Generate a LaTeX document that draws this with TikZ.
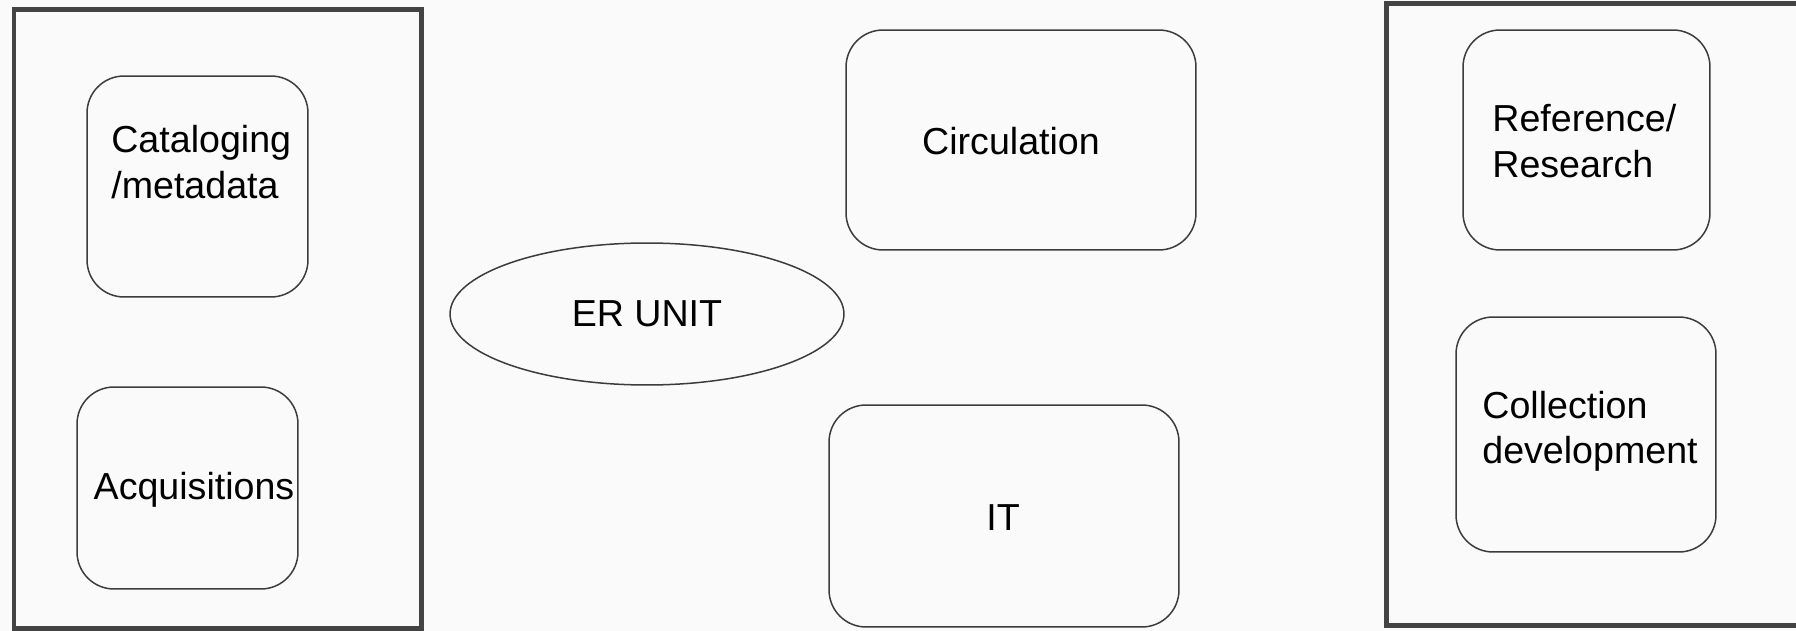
\documentclass[tikz,border=0pt]{standalone}
\usepackage{fontspec}
\setmainfont{Liberation Sans}
\usepackage{tikz}
\usepackage{xcolor}
\usetikzlibrary{positioning, shapes.geometric}
\definecolor{bggray}{RGB}{250, 250, 250}
\definecolor{framegray}{RGB}{67, 67, 67}
\definecolor{boxgray}{RGB}{60, 60, 60}
\tikzset{
    groupframe/.style={draw=framegray, line width=0.1cm},
    unitbox/.style={rectangle, draw=boxgray, line width=0.03cm, rounded corners=0.74cm, inner sep=0pt},
    erunit/.style={ellipse, draw=boxgray, line width=0.03cm, inner sep=0pt, minimum width=7.88cm, minimum height=2.84cm},
    unittext/.style={font=\fontsize{21.4}{25.8}\selectfont, inner sep=0pt, align=left}
}

\begin{document}
\begin{tikzpicture}[x=0.02cm, y=-0.02cm]
                    \fill[bggray] (0,0) rectangle (1796,631);
                    \useasboundingbox (0,0) rectangle (1796,631);
                    \clip (0,0) rectangle (1796,631);

                    % outer group frames
                    \draw[groupframe] (14,10) rectangle (421,628);
                    \draw[groupframe] (1386,4) rectangle (1802,625);

                    % units
                    \node[unitbox, minimum width=4.42cm, minimum height=4.42cm] (catalog) at (197.5,186.5) {};
                    \node[unitbox, minimum width=4.42cm, minimum height=4.04cm] (acq) at (187.5,488) {};
                    \node[erunit] (er) at (647,314) {};
                    \node[unitbox, minimum width=7.0cm, minimum height=4.4cm] (circ) at (1021,140) {};
                    \node[unitbox, minimum width=7.0cm, minimum height=4.44cm] (it) at (1004,516) {};
                    \node[unitbox, minimum width=4.94cm, minimum height=4.4cm] (ref) at (1586.5,140) {};
                    \node[unitbox, minimum width=5.2cm, minimum height=4.7cm] (coll) at (1586,434.5) {};

                    % labels
                    \node[unittext, anchor=west] (catalogtext) at (111,162) {Cataloging\\/metadata};
                    \node[unittext] (acqtext) at (194,490) {Acquisitions};
                    \node[unittext] (ertext) at (er.center) {ER UNIT};
                    \node[unittext] (circtext) at (1011,141) {Circulation};
                    \node[unittext] (ittext) at (1003,518) {IT};
                    \node[unittext, anchor=west] (reftext) at (1492,141) {Reference/\\Research};
                    \node[unittext, anchor=west] (colltext) at (1482,431) {Collection\\development};
                \end{tikzpicture}
\end{document}
